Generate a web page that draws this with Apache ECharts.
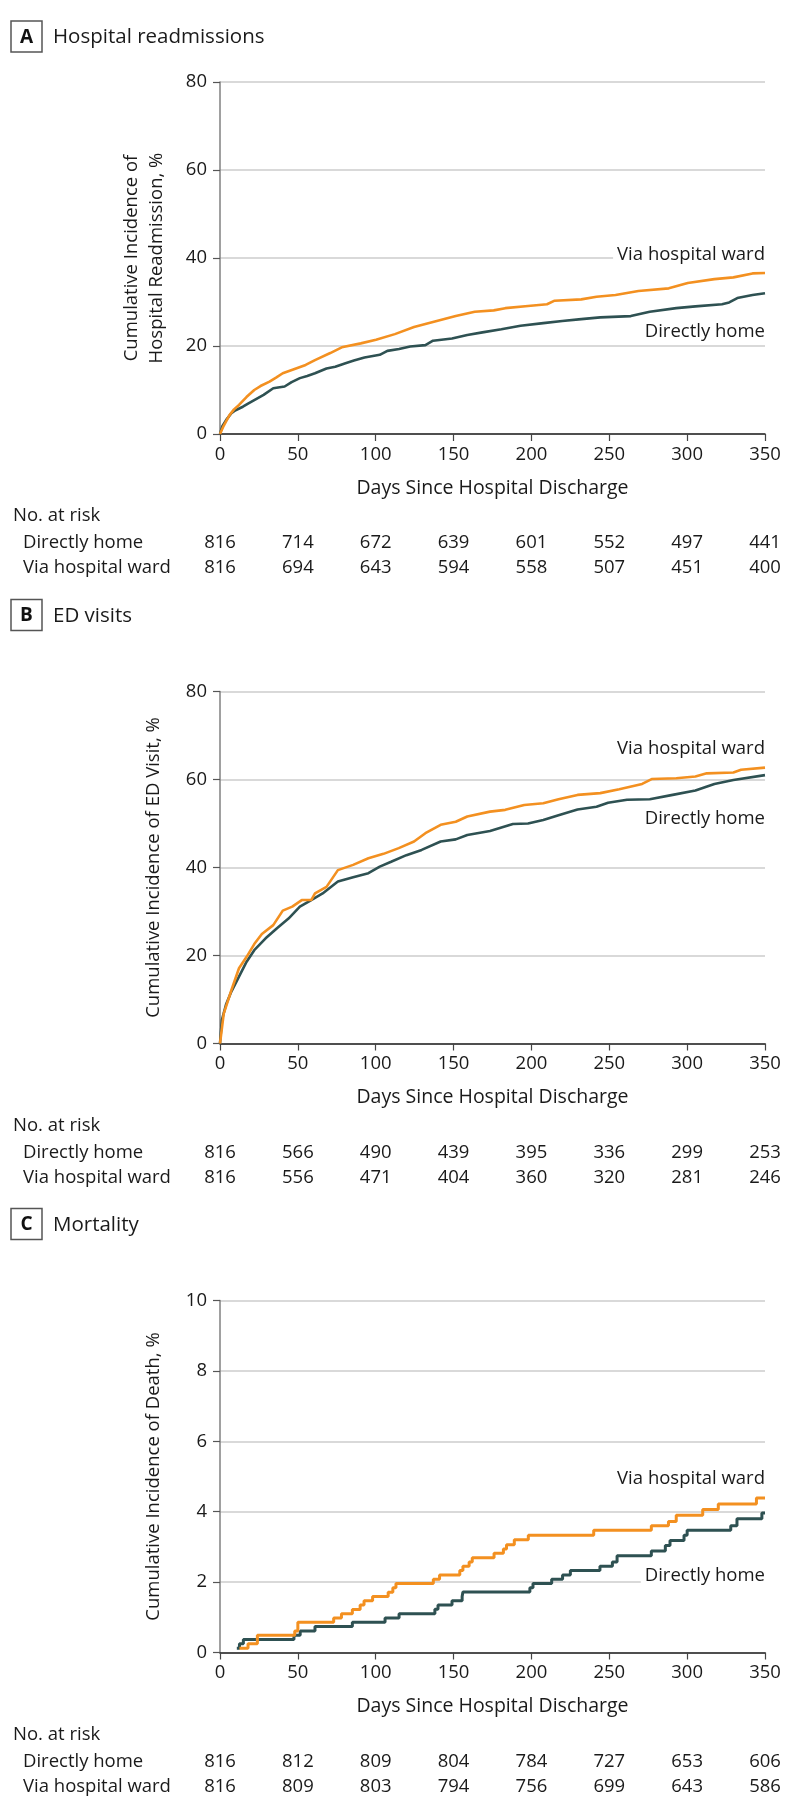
<!DOCTYPE html>
<html>
<head>
<meta charset="utf-8">
<script src="https://cdn.jsdelivr.net/npm/echarts@6/dist/echarts.min.js"></script>
<style>
html,body{margin:0;padding:0;background:#fff;}
#chart{width:798px;height:1817px;}
</style>
</head>
<body>
<div id="chart"></div>
<script>
// ---------- DATA ----------
const xTicks = [0, 50, 100, 150, 200, 250, 300, 350];
const groupNames = ['Directly home', 'Via hospital ward'];

// Panel A: hospital readmissions (cumulative incidence, %)
const readmHomeDays = [0, 1.5, 4, 7.3, 10, 14.7, 18, 22, 28, 34.2, 41.5, 46, 51.3, 56, 61, 68.4, 74, 80.6, 86, 92.8, 102.6, 107.5, 115, 122.1, 131.9, 136.8, 149, 158.8, 168.5, 180.7, 193, 207.6, 219.8, 232, 244.2, 263.8, 276, 293, 305.3, 322.4, 327, 332.2, 342, 350];
const readmHomePct  = [0, 1.8, 3.2, 4.7, 5.4, 6.2, 6.9, 7.7, 8.9, 10.4, 10.8, 11.8, 12.7, 13.2, 13.8, 14.9, 15.3, 16.1, 16.7, 17.4, 18.0, 18.9, 19.3, 19.9, 20.2, 21.2, 21.7, 22.5, 23.1, 23.8, 24.6, 25.2, 25.7, 26.1, 26.5, 26.8, 27.8, 28.6, 29.0, 29.5, 29.9, 30.9, 31.6, 32.0];
const readmWardDays = [0, 2, 6.1, 9, 12.2, 17, 22, 26, 31.8, 36, 40.3, 48.8, 55, 61, 70.8, 78.2, 90.4, 100.2, 112.3, 124.6, 139.2, 151.4, 163.6, 175.8, 183.2, 197.8, 210, 214.9, 232, 241.8, 254, 268.7, 288.2, 300.4, 317.5, 329.7, 342, 350];
const readmWardPct  = [0, 1.6, 4.3, 5.6, 6.6, 8.4, 10.0, 10.9, 11.9, 12.8, 13.8, 14.9, 15.7, 16.8, 18.4, 19.7, 20.6, 21.4, 22.7, 24.3, 25.7, 26.8, 27.8, 28.1, 28.6, 29.1, 29.5, 30.3, 30.6, 31.2, 31.6, 32.5, 33.1, 34.3, 35.2, 35.6, 36.5, 36.6];

// Panel B: ED visits (cumulative incidence, %)
const edHomeDays = [0, 1.2, 4, 7.3, 12.2, 17.1, 22, 29.3, 36.6, 44, 51.3, 58.6, 65.9, 75.7, 85.5, 95.3, 102.6, 109.9, 119.7, 129.5, 141.7, 151.4, 158.8, 173.4, 188.1, 197.8, 207.6, 217.4, 229.6, 241.8, 249.2, 261.4, 276, 290.7, 305.3, 317.5, 329.7, 350];
const edHomePct  = [0, 5.3, 9.0, 11.8, 15.2, 18.6, 21.2, 23.9, 26.2, 28.4, 31.1, 32.6, 34.1, 36.8, 37.8, 38.7, 40.2, 41.3, 42.8, 44.0, 45.9, 46.4, 47.4, 48.3, 49.9, 50.0, 50.8, 51.9, 53.2, 53.8, 54.7, 55.4, 55.5, 56.5, 57.5, 59.0, 59.9, 61.0];
const edWardDays = [0, 2.4, 7.3, 12.2, 17.1, 22, 26.9, 34.2, 40.3, 46.4, 52.5, 58.6, 61, 68.4, 75.7, 85.5, 95.3, 105, 114.8, 124.6, 131.9, 141.7, 151.4, 158.8, 173.4, 183.2, 195.4, 207.6, 217.4, 229.6, 244.2, 256.4, 271.1, 277.2, 293, 305.3, 312.6, 329.7, 334.6, 350];
const edWardPct  = [0, 6.8, 12.1, 17.1, 19.7, 22.6, 24.9, 26.9, 30.2, 31.1, 32.6, 32.6, 34.1, 35.6, 39.4, 40.6, 42.1, 43.1, 44.4, 45.9, 47.8, 49.7, 50.4, 51.6, 52.7, 53.1, 54.2, 54.6, 55.5, 56.5, 56.9, 57.8, 59.0, 60.1, 60.3, 60.7, 61.4, 61.6, 62.2, 62.7];

// Panel C: mortality (cumulative incidence, %), step curves
const deathHomeDays = [10.8, 12.5, 15, 47.5, 51.5, 61, 85, 106, 115, 138, 140, 149, 155.5, 156, 199, 201, 213, 220, 225, 244, 252, 255, 277, 286, 289, 298, 300, 328, 332, 348, 350];
const deathHomePct  = [0.12, 0.25, 0.37, 0.49, 0.61, 0.74, 0.86, 0.98, 1.10, 1.23, 1.35, 1.47, 1.59, 1.72, 1.84, 1.96, 2.08, 2.20, 2.33, 2.45, 2.57, 2.75, 2.88, 3.04, 3.18, 3.33, 3.47, 3.60, 3.80, 3.96, 3.96];
const deathWardDays = [12.5, 18, 24, 48, 50, 73, 78, 85, 90, 92.5, 98, 108, 111, 113, 137, 141, 154, 156, 160, 162, 176, 182, 184, 189, 198, 240, 277, 288, 293, 310, 320, 344.5, 350];
const deathWardPct  = [0.12, 0.25, 0.49, 0.61, 0.86, 0.98, 1.10, 1.22, 1.35, 1.47, 1.59, 1.71, 1.84, 1.96, 2.08, 2.20, 2.33, 2.45, 2.57, 2.69, 2.82, 2.94, 3.06, 3.20, 3.33, 3.47, 3.60, 3.72, 3.90, 4.06, 4.22, 4.39, 4.39];

// Numbers at risk
const riskA_home = [816, 714, 672, 639, 601, 552, 497, 441];
const riskA_ward = [816, 694, 643, 594, 558, 507, 451, 400];
const riskB_home = [816, 566, 490, 439, 395, 336, 299, 253];
const riskB_ward = [816, 556, 471, 404, 360, 320, 281, 246];
const riskC_home = [816, 812, 809, 804, 784, 727, 653, 606];
const riskC_ward = [816, 809, 803, 794, 756, 699, 643, 586];

// Panel text
const panelLetters = ['A', 'B', 'C'];
const panelTitles = ['Hospital readmissions', 'ED visits', 'Mortality'];
const yTitles = ['Cumulative Incidence of\nHospital Readmission, %', 'Cumulative Incidence of ED Visit, %', 'Cumulative Incidence of Death, %'];
const xTitle = 'Days Since Hospital Discharge';
const yMax = [80, 80, 10];
const yStep = [20, 20, 2];
// label anchor values (y, in data units) at day 350
const wardLabelY = [40.7, 67, 4.95];
const homeLabelY = [23.3, 51, 2.17];

// ---------- STYLE / LAYOUT ----------
const FONT = '"Open Sans", "Liberation Sans", sans-serif';
const FS = 18.5;
const TXT = '#1a1a1a';
const ORANGE = '#f39020';
const DARK = '#2e5152';
const gridTops = [82, 691.5, 1300.5];
const GRID_H = 352, GRID_L = 220, GRID_W = 545;
const titleCenters = [36.5, 615, 1224];

function pairs(xs, ys) { return xs.map((x, i) => [x, ys[i]]); }

const curves = [
  [pairs(readmHomeDays, readmHomePct), pairs(readmWardDays, readmWardPct)],
  [pairs(edHomeDays, edHomePct), pairs(edWardDays, edWardPct)],
  [pairs(deathHomeDays, deathHomePct), pairs(deathWardDays, deathWardPct)]
];
const risks = [[riskA_home, riskA_ward], [riskB_home, riskB_ward], [riskC_home, riskC_ward]];

const grids = [], xAxes = [], yAxes = [], series = [];
for (let p = 0; p < 3; p++) {
  grids.push({ left: GRID_L, top: gridTops[p], width: GRID_W, height: GRID_H, containLabel: false });
  xAxes.push({
    type: 'value', gridIndex: p, min: 0, max: 350, interval: 50,
    name: xTitle, nameLocation: 'middle', nameGap: 44,
    nameTextStyle: { fontFamily: FONT, fontSize: 19.5, color: TXT },
    axisLine: { show: true, onZero: false, lineStyle: { color: '#222', width: 1.5 } },
    axisTick: { show: true, length: 7, lineStyle: { color: '#444', width: 1.2 } },
    axisLabel: { fontFamily: FONT, fontSize: FS, color: TXT, margin: 11 },
    splitLine: { show: false }
  });
  yAxes.push({
    type: 'value', gridIndex: p, min: 0, max: yMax[p], interval: yStep[p],
    name: yTitles[p], nameLocation: 'middle', nameGap: p === 0 ? 51 : 54,
    nameTextStyle: { fontFamily: FONT, fontSize: FS, color: TXT, lineHeight: 25 },
    axisLine: { show: true, lineStyle: { color: '#808080', width: 1.5 } },
    axisTick: { show: true, length: 7, lineStyle: { color: '#555', width: 1.2 } },
    axisLabel: { fontFamily: FONT, fontSize: FS, color: TXT, margin: 13 },
    splitLine: { show: true, lineStyle: { color: '#d9d9d9', width: 2 } }
  });
  const lw = p === 2 ? 3 : 2.6;
  const labelBase = {
    show: true, position: 'left', distance: 0,
    fontFamily: FONT, fontSize: FS, color: TXT,
    backgroundColor: '#fff', padding: [1, 0, 1, 4]
  };
  series.push({
    type: 'line', name: groupNames[0], xAxisIndex: p, yAxisIndex: p,
    data: curves[p][0], showSymbol: false, symbol: 'none',
    step: p === 2 ? 'end' : false,
    lineStyle: { color: DARK, width: lw }, itemStyle: { color: DARK },
    z: 3, animation: false,
    markPoint: {
      symbol: 'rect', symbolSize: 0, silent: true, animation: false,
      label: Object.assign({}, labelBase, { formatter: groupNames[0] }),
      data: [{ coord: [350, homeLabelY[p]] }]
    }
  });
  series.push({
    type: 'line', name: groupNames[1], xAxisIndex: p, yAxisIndex: p,
    data: curves[p][1], showSymbol: false, symbol: 'none',
    step: p === 2 ? 'end' : false,
    lineStyle: { color: ORANGE, width: lw }, itemStyle: { color: ORANGE },
    z: 4, animation: false,
    markPoint: {
      symbol: 'rect', symbolSize: 0, silent: true, animation: false,
      label: Object.assign({}, labelBase, { formatter: groupNames[1] }),
      data: [{ coord: [350, wardLabelY[p]] }]
    }
  });
}

const chart = echarts.init(document.getElementById('chart'), null, { renderer: 'canvas' });
chart.setOption({
  animation: false,
  backgroundColor: '#fff',
  textStyle: { fontFamily: FONT },
  grid: grids, xAxis: xAxes, yAxis: yAxes, series: series
});

// ---------- panel headers and numbers-at-risk tables ----------
const g = [];
for (let p = 0; p < 3; p++) {
  const tc = titleCenters[p];
  g.push({ type: 'rect', shape: { x: 11, y: tc - 15.5, width: 31, height: 31 },
           style: { fill: '#fff', stroke: '#555', lineWidth: 1.5 } });
  g.push({ type: 'text', x: 26.5, y: tc + 1,
           style: { text: panelLetters[p], fontFamily: FONT, fontSize: 19, fontWeight: 'bold', fill: '#111', align: 'center', verticalAlign: 'middle' } });
  g.push({ type: 'text', x: 53, y: tc + 1,
           style: { text: panelTitles[p], fontFamily: FONT, fontSize: 20.5, fill: TXT, align: 'left', verticalAlign: 'middle' } });

  const axisY = chart.convertToPixel({ gridIndex: p }, [0, 0])[1];
  g.push({ type: 'text', x: 13, y: axisY + 82,
           style: { text: 'No. at risk', fontFamily: FONT, fontSize: FS, fill: TXT, align: 'left', verticalAlign: 'middle' } });
  for (let r = 0; r < 2; r++) {
    const ry = axisY + 109 + r * 25;
    g.push({ type: 'text', x: 23, y: ry,
             style: { text: groupNames[r], fontFamily: FONT, fontSize: FS, fill: TXT, align: 'left', verticalAlign: 'middle' } });
    risks[p][r].forEach((v, i) => {
      const px = chart.convertToPixel({ gridIndex: p }, [xTicks[i], 0])[0];
      g.push({ type: 'text', x: px, y: ry,
               style: { text: String(v), fontFamily: FONT, fontSize: FS, fill: TXT, align: 'center', verticalAlign: 'middle' } });
    });
  }
}
chart.setOption({ graphic: g });
</script>
</body>
</html>
